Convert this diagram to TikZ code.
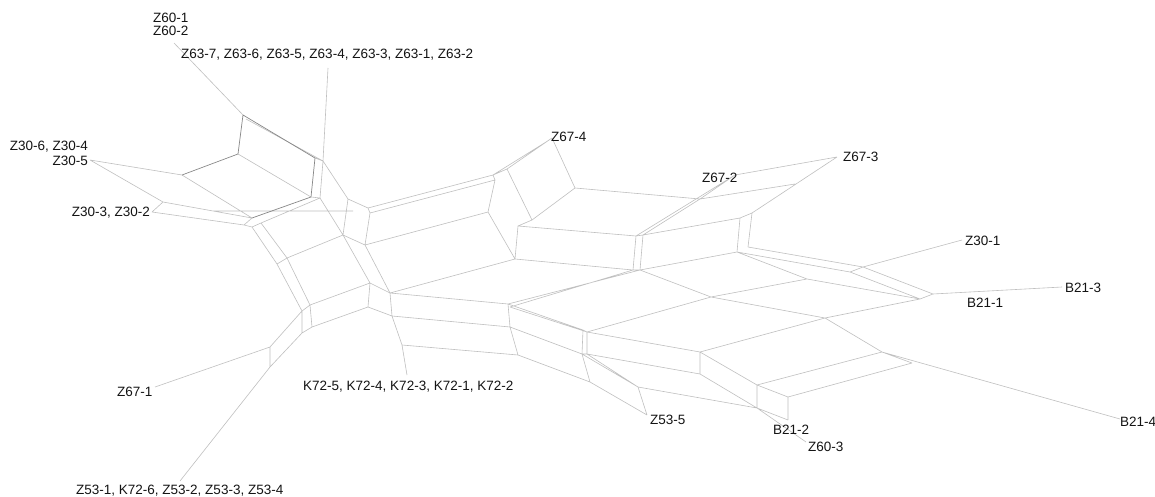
\documentclass[tikz,border=0pt]{standalone}
\usepackage{fontspec}
\setmainfont{Liberation Sans}
\definecolor{edgec}{RGB}{192,192,192}
\definecolor{darkc}{RGB}{135,135,135}
\definecolor{txtc}{RGB}{20,20,20}
\begin{document}
\begin{tikzpicture}[x=1pt,y=-1pt,
  edge/.style={draw=edgec, line width=0.6pt, line join=round},
  dedge/.style={draw=darkc, line width=0.7pt, line join=round},
  lbl/.style={inner sep=0pt, text=txtc, font=\fontsize{13.5}{15}\selectfont}]
\fill[white] (0,0) rectangle (1155,497);
\useasboundingbox (0,0) rectangle (1155,497);
% ---------- vertices ----------
\coordinate (z60) at (174,43);
\coordinate (z63) at (328,68);
\coordinate (z305) at (90,160);
\coordinate (z303) at (152,212);
\coordinate (q) at (163,202);
\coordinate (a1) at (243,115);
\coordinate (a1b) at (246,119);
\coordinate (a2) at (238,154);
\coordinate (a3) at (182,175);
\coordinate (a4) at (315,158);
\coordinate (a4b) at (323,161);
\coordinate (a5) at (311,197);
\coordinate (a5b) at (320,198);
\coordinate (b1) at (252,218);
\coordinate (b1b) at (261,223);
\coordinate (b2) at (244,225);
\coordinate (b3) at (252,227);
\coordinate (h1) at (213,211);
\coordinate (h2) at (353,211);
\coordinate (c1) at (348,199);
\coordinate (c2) at (368,208);
\coordinate (c2b) at (370,213);
\coordinate (c3) at (343,235);
\coordinate (c4) at (365,245);
\coordinate (d1) at (493,175);
\coordinate (d1b) at (495,180);
\coordinate (d2) at (507,169);
\coordinate (d3) at (488,212);
\coordinate (e1) at (546,142);
\coordinate (z674) at (552,138);
\coordinate (e2) at (575,188);
\coordinate (d4) at (532,220);
\coordinate (d5) at (518,226);
\coordinate (d6) at (515,259);
\coordinate (g1) at (636,236);
\coordinate (g1b) at (643,235);
\coordinate (g2) at (633,270);
\coordinate (g2b) at (640,270);
\coordinate (f1) at (700,199);
\coordinate (z672) at (735,175);
\coordinate (z673) at (837,157);
\coordinate (f2) at (795,184);
\coordinate (g3) at (752,213);
\coordinate (g4) at (740,218);
\coordinate (g5) at (737,252);
\coordinate (g6) at (748,247);
\coordinate (r1) at (850,272);
\coordinate (r2) at (863,267);
\coordinate (r3) at (807,279);
\coordinate (r4) at (920,299);
\coordinate (r5) at (933,294);
\coordinate (r6) at (711,297);
\coordinate (r7) at (825,318);
\coordinate (r8) at (882,352);
\coordinate (r9) at (912,363);
\coordinate (z301) at (962,240);
\coordinate (b213) at (1062,287);
\coordinate (b214) at (1120,419);
\coordinate (s0a) at (370,283);
\coordinate (s0b) at (368,307);
\coordinate (s1) at (390,293);
\coordinate (s2) at (392,316);
\coordinate (s3) at (402,345);
\coordinate (k72) at (407,375);
\coordinate (t1) at (508,304);
\coordinate (t1b) at (510,307);
\coordinate (t2) at (510,327);
\coordinate (t3) at (518,355);
\coordinate (t4) at (583,330);
\coordinate (t4b) at (587,332);
\coordinate (t5) at (582,354);
\coordinate (t5b) at (587,354);
\coordinate (t6) at (590,382);
\coordinate (w2) at (700,352);
\coordinate (w3) at (700,374);
\coordinate (x1) at (638,387);
\coordinate (x2) at (647,415);
\coordinate (y1) at (757,385);
\coordinate (y2) at (788,397);
\coordinate (y3) at (757,408);
\coordinate (y4) at (788,420);
\coordinate (z603) at (806,442);
\coordinate (m1) at (277,264);
\coordinate (m2) at (287,258);
\coordinate (n1) at (302,311);
\coordinate (n2) at (310,305);
\coordinate (n3) at (302,333);
\coordinate (n4) at (312,327);
\coordinate (o1) at (270,347);
\coordinate (o2) at (270,367);
\coordinate (z671) at (155,387);
\coordinate (z531) at (180,481);
% ---------- light edges ----------
\draw[edge] (z60)--(a1) (a1b)--(a4b) (a3)--(z305) (a2)--(a5) (a4b)--(a5b)
  (z63)--(a4b) (a3)--(b1) (z305)--(q) (q)--(z303) (q)--(b1) (z303)--(b2)
  (b2)--(b1) (b2)--(b3) (b3)--(b1b) (a5b)--(b1b) (a4)--(a4b) (a5)--(a5b) (h1)--(h2)
  (a4b)--(c1) (c1)--(c2) (c1)--(c3) (a5b)--(c3) (c2)--(d1) (c2b)--(d1b)
  (c2b)--(c4) (c3)--(c4) (c2)--(c2b) (c4)--(d3) (d1b)--(d3) (d1)--(d2) (d1)--(d1b)
  (d1)--(e1) (e1)--(z674) (d2)--(z674) (z674)--(e2) (e2)--(d4) (d2)--(d4)
  (d4)--(d5) (d3)--(d6) (d5)--(d6) (e2)--(f1)
  (d5)--(g1) (d6)--(g2) (g1)--(g2) (g1b)--(g2b) (g1)--(g1b) (g2)--(g2b)
  (z672)--(f1) (f1)--(g1b) (z672)--(g1) (z672)--(z673) (f1)--(f2) (z673)--(g3)
  (g1b)--(g4) (g4)--(g3) (g4)--(g5) (g3)--(g6) (g2b)--(g5)
  (g6)--(r2) (g5)--(r1) (r1)--(r2) (r2)--(z301) (r2)--(r5) (r1)--(r4) (r4)--(r5)
  (r5)--(b213) (g5)--(r3) (r3)--(r4) (g2b)--(r6) (r6)--(r3) (r6)--(r7) (r7)--(r4)
  (r7)--(r8) (r8)--(b214) (r8)--(r9)
  (c3)--(s0a) (c4)--(s1) (s0a)--(s1) (s0b)--(s2) (s0a)--(s0b) (s1)--(s2) (s2)--(s3)
  (s3)--(k72) (s1)--(d6) (s1)--(t1) (s2)--(t2) (s3)--(t3) (t1)--(t2) (t2)--(t3)
  (t1)--(g2b) (t1b)--(g2)
  (t1)--(t4) (t1b)--(t4b) (t2)--(t5) (t3)--(t6) (t4)--(t5) (t5)--(t6) (t4b)--(t5b)
  (t4)--(t4b) (t5)--(t5b) (t4b)--(r6) (t4b)--(w2) (t5b)--(w3) (w2)--(w3) (w2)--(r7)
  (t5)--(x1) (t5b)--(x1) (t6)--(x2) (x1)--(x2) (x1)--(y3) (w3)--(y3)
  (w2)--(y1) (y1)--(y3) (y1)--(y2) (y2)--(y4) (y3)--(y4) (y1)--(r8) (y2)--(r9)
  (y3)--(z603)
  (b3)--(m1) (b1b)--(m2) (m1)--(m2) (m2)--(c3) (m2)--(n2) (m1)--(n1) (n1)--(n2)
  (n2)--(s0a) (n2)--(n4) (n1)--(n3) (n3)--(n4) (n4)--(s0b) (n1)--(o1) (n3)--(o2)
  (o1)--(o2) (o1)--(z671) (o2)--(z531);
% ---------- darker (doubled) edges ----------
\draw[dedge] (a1)--(a4) (a1)--(a2) (a2)--(a3) (a4)--(a5) (a5)--(b1);
% ---------- labels ----------
\node[lbl, anchor=west] (l601) at (153,18) {Z60-1};
\node[lbl, anchor=west] (l602) at (153,31) {Z60-2};
\node[lbl, anchor=west] (l63) at (181,55) {Z63-7, Z63-6, Z63-5, Z63-4, Z63-3, Z63-1, Z63-2};
\node[lbl, anchor=east] (l3064) at (88,147) {Z30-6, Z30-4};
\node[lbl, anchor=east] (l305) at (88,161) {Z30-5};
\node[lbl, anchor=east] (l3032) at (150,213) {Z30-3, Z30-2};
\node[lbl, anchor=west] (l674) at (551,137) {Z67-4};
\node[lbl, anchor=west] (l672) at (702,178) {Z67-2};
\node[lbl, anchor=west] (l673) at (843,157) {Z67-3};
\node[lbl, anchor=west] (l301) at (965,241) {Z30-1};
\node[lbl, anchor=west] (l213) at (1065,288) {B21-3};
\node[lbl, anchor=west] (l211) at (967,303) {B21-1};
\node[lbl, anchor=west] (l214) at (1120,422) {B21-4};
\node[lbl, anchor=west] (l212) at (773,430) {B21-2};
\node[lbl, anchor=west] (l603) at (808,447) {Z60-3};
\node[lbl, anchor=west] (l535) at (650,420) {Z53-5};
\node[lbl, anchor=west] (lk72) at (303,387) {K72-5, K72-4, K72-3, K72-1, K72-2};
\node[lbl, anchor=west] (l671) at (117,392) {Z67-1};
\node[lbl, anchor=west] (l531) at (76,491) {Z53-1, K72-6, Z53-2, Z53-3, Z53-4};
\end{tikzpicture}
\end{document}
